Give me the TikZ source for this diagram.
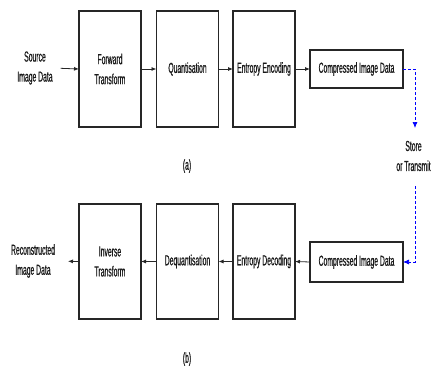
\documentclass[tikz,border=0pt]{standalone}
\usepackage{fontspec}
\setmainfont{Liberation Sans}[FakeStretch=0.47,FakeBold=0.6]
\usetikzlibrary{arrows.meta}
\begin{document}
\begin{tikzpicture}[x=1pt,y=-1pt,
  every node/.style={font=\fontsize{14.5}{20}\selectfont, inner sep=0pt, outer sep=0pt, text=black!90},
  tall/.style={draw=black!85, line width=1.4pt, minimum width=62pt, minimum height=116pt, align=center},
  flat/.style={draw=black!85, line width=1.4pt, minimum width=93pt, minimum height=38pt, align=center},
  lbl/.style={align=center},
  arr/.style={-{Latex[length=5pt,width=4pt]}, line width=0.8pt, black!85},
  blue arr/.style={-{Latex[length=6pt,width=5pt]}, dash pattern=on 3pt off 2pt, blue, line width=0.7pt}]
\useasboundingbox (0,0) rectangle (432,367);
\fill[white] (0,0) rectangle (432,367);
% top row
\node[lbl] (src) at (35,68) {Source\\Image Data};
\node[tall] (fwd) at (110,69) {Forward\\Transform};
\node[tall] (qua) at (187.5,69) {Quantisation};
\node[tall] (enc) at (264,69) {Entropy Encoding};
\node[flat] (cmp1) at (356.5,69) {Compressed Image Data};
\draw[arr, shorten <=8pt] (src.east) -- (fwd.west);
\draw[arr] (fwd.east) -- (qua.west);
\draw[arr] (qua.east) -- (enc.west);
\draw[arr] (enc.east) -- (cmp1.west);
\node[lbl] (a) at (187,166) {(a)};
% store
\coordinate (t1) at (415,69);
\coordinate (t2) at (415,128);
\node[lbl] (store) at (413.5,156) {Store\\or Transmit};
\coordinate (t3) at (415,186);
\coordinate (t4) at (415,262);
\draw[blue arr] (cmp1.east) -- (t1) -- (t2);
% bottom row
\node[flat, minimum height=40pt] (cmp2) at (356.5,262) {Compressed Image Data};
\node[tall, minimum height=115pt] (dec) at (264,261.5) {Entropy Decoding};
\node[tall, minimum height=115pt] (deq) at (187.5,261.5) {Dequantisation};
\node[tall, minimum height=115pt] (inv) at (110,261.5) {Inverse\\Transform};
\node[lbl] (rec) at (33,261) {Reconstructed\\Image Data};
\draw[blue arr] (t3) -- (t4) -- (cmp2.east);
\draw[arr] (cmp2.west) -- (dec.east);
\draw[arr] (dec.west) -- (deq.east);
\draw[arr] (deq.west) -- (inv.east);
\draw[arr, shorten >=13pt] (inv.west) -- (rec.east);
\node[lbl] (b) at (187,359) {(b)};
\end{tikzpicture}
\end{document}
